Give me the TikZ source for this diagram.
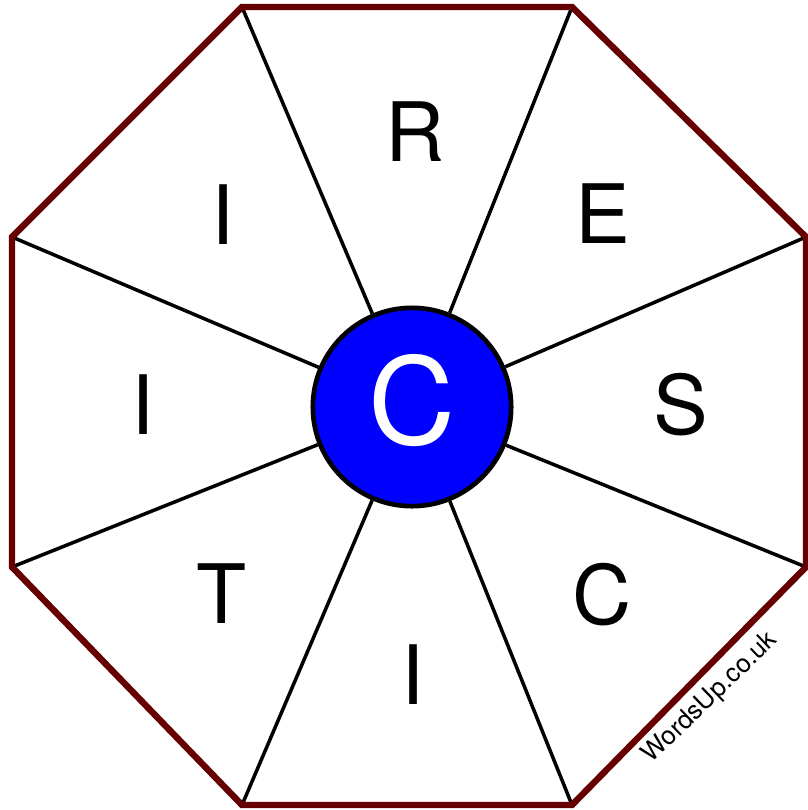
\documentclass[tikz,border=0pt]{standalone}
\usepackage{fontspec}
\setmainfont{TeX Gyre Heros}
\definecolor{rimred}{RGB}{102,0,0}
\definecolor{hubblue}{RGB}{0,0,255}

\begin{document}
\begin{tikzpicture}[x=0.03cm, y=-0.03cm,
  letter/.style={anchor=base, inner sep=0pt, font=\fontsize{70}{84}\selectfont},
  spoke/.style={line width=3pt, black}]
\useasboundingbox (0,0) rectangle (807,810);
% octagon corners
\foreach \name/\px/\py in {v1/242/7, v2/572/7, v3/806/237, v4/806/567,
                           v5/572/805, v6/242/805, v7/12/567, v8/12/237}
  \coordinate (\name) at (\px,\py);
\node[circle, draw, line width=4pt, fill=hubblue, text=white, inner sep=0pt,
  minimum size=5.95cm] (hub) at (412,407) {};
\foreach \i in {1,...,8}
  \draw[spoke] (v\i) -- (hub);
\draw[rimred, line width=5.5pt, line join=miter]
  (v1) -- (v2) -- (v3) -- (v4) -- (v5) -- (v6) -- (v7) -- (v8) -- cycle;
\node[anchor=base, inner sep=0pt, text=white, font=\fontsize{103}{120}\selectfont]
  (hubletter) at (412,444) {C};
\node[letter] (lR) at (415,161) {R};
\node[letter] (lE) at (603,243) {E};
\node[letter] (lS) at (681,434) {S};
\node[letter] (lC) at (602,624) {C};
\node[letter] (lIb) at (413,704) {I};
\node[letter] (lT) at (222,623) {T};
\node[letter] (lIl) at (143,434) {I};
\node[letter] (lIt) at (223,244) {I};
\node[anchor=base, inner sep=0pt, rotate=44, font=\fontsize{22}{26}\selectfont]
  (site) at (715,703) {WordsUp.co.uk};
\end{tikzpicture}
\end{document}
